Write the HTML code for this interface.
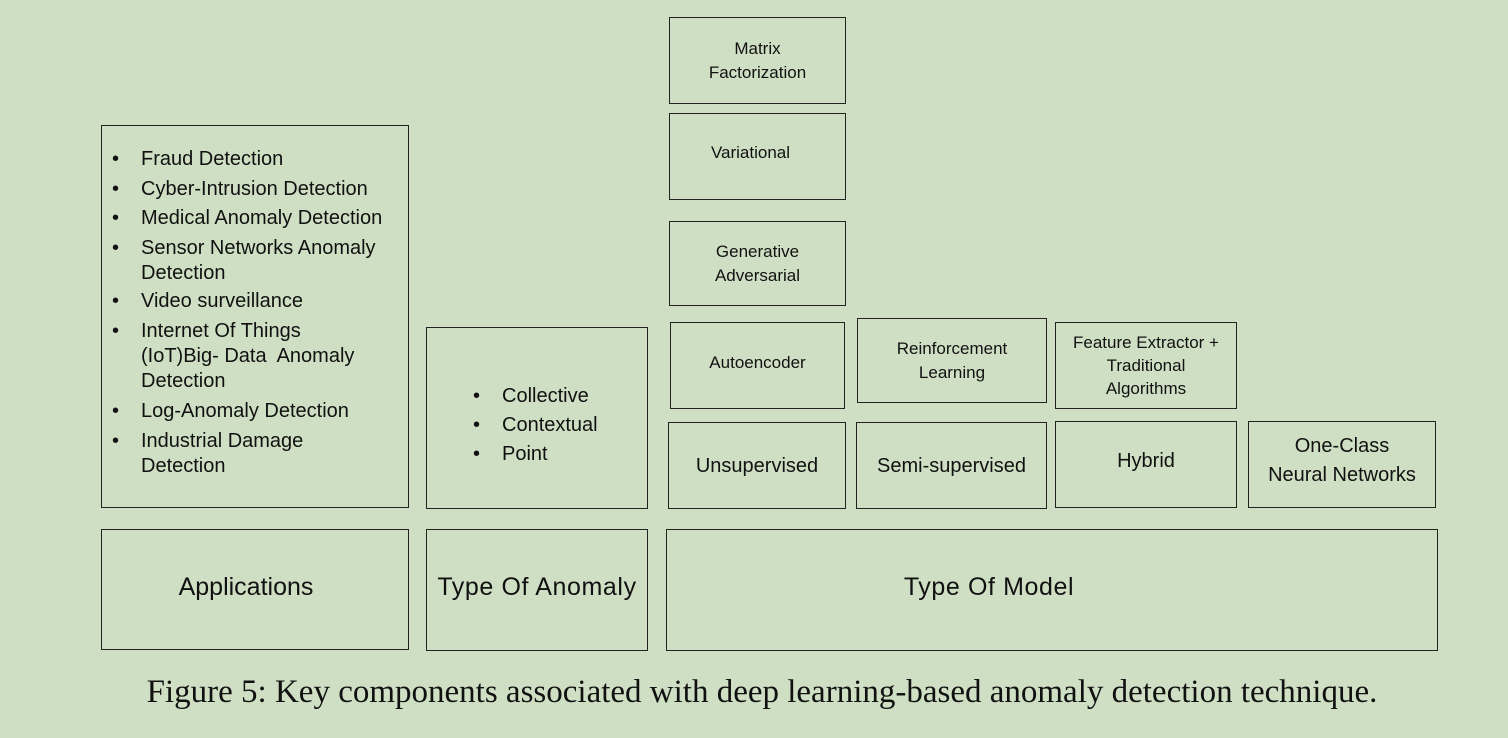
<!DOCTYPE html>
<html><head><style>
body{margin:0;width:1508px;height:738px;background:#cfdfc4;position:relative;overflow:hidden;font-family:"Liberation Sans",sans-serif;color:#111}
.b{position:absolute;border:1.5px solid #222;box-sizing:border-box;display:flex;align-items:center;justify-content:center;text-align:center;font-size:17px;line-height:24px}
.t{position:absolute;font-size:20px;line-height:25px}
.cap{position:absolute;left:8px;width:1508px;top:674px;text-align:center;font-family:"Liberation Serif",serif;font-size:33px;white-space:nowrap}
ul{margin:0;padding:0;list-style:none}
li{position:relative;padding-left:29px;white-space:nowrap}
li::before{content:"•";position:absolute;left:0;top:0}
</style></head><body>
<div class="b" style="left:669px;top:17px;width:177px;height:87px">Matrix<br>Factorization</div>
<div class="b" style="left:669px;top:113px;width:177px;height:87px;padding-right:14px;padding-bottom:8px">Variational</div>
<div class="b" style="left:669px;top:221px;width:177px;height:85px">Generative<br>Adversarial</div>
<div class="b" style="left:670px;top:322px;width:175px;height:87px;padding-bottom:6px">Autoencoder</div>
<div class="b" style="left:857px;top:318px;width:190px;height:85px">Reinforcement<br>Learning</div>
<div class="b" style="left:1055px;top:322px;width:182px;height:87px;line-height:23px">Feature Extractor +<br>Traditional<br>Algorithms</div>
<div class="b" style="left:668px;top:422px;width:178px;height:87px;font-size:20px">Unsupervised</div>
<div class="b" style="left:856px;top:422px;width:191px;height:87px;font-size:20px">Semi-supervised</div>
<div class="b" style="left:1055px;top:421px;width:182px;height:87px;font-size:20px;padding-bottom:8px">Hybrid</div>
<div class="b" style="left:1248px;top:421px;width:188px;height:87px;font-size:20px;line-height:29px;padding-bottom:8px">One-Class<br>Neural Networks</div>
<div class="b" style="left:101px;top:125px;width:308px;height:383px"></div>
<div class="t" style="left:112px;top:147px;width:300px"><ul>
<li style="margin-bottom:5px">Fraud Detection</li>
<li style="margin-bottom:4px">Cyber-Intrusion Detection</li>
<li style="margin-bottom:5px">Medical Anomaly Detection</li>
<li style="margin-bottom:3px">Sensor Networks Anomaly<br>Detection</li>
<li style="margin-bottom:5px">Video surveillance</li>
<li style="margin-bottom:5px">Internet Of Things<br>(IoT)Big- Data&nbsp; Anomaly<br>Detection</li>
<li style="margin-bottom:5px">Log-Anomaly Detection</li>
<li>Industrial Damage<br>Detection</li>
</ul></div>
<div class="b" style="left:426px;top:327px;width:222px;height:182px"></div>
<div class="t" style="left:473px;top:382px;width:170px;line-height:29px"><ul><li>Collective</li><li>Contextual</li><li>Point</li></ul></div>
<div class="b" style="left:101px;top:529px;width:308px;height:121px;font-size:25px;padding-right:18px;padding-bottom:6px">Applications</div>
<div class="b" style="left:426px;top:529px;width:222px;height:122px;font-size:25px;letter-spacing:0.6px;padding-bottom:6px">Type Of Anomaly</div>
<div class="b" style="left:666px;top:529px;width:772px;height:122px;font-size:25px;letter-spacing:0.6px;padding-right:126px;padding-bottom:6px">Type Of Model</div>
<div class="cap">Figure 5: Key components associated with deep learning-based anomaly detection technique.</div>
</body></html>
